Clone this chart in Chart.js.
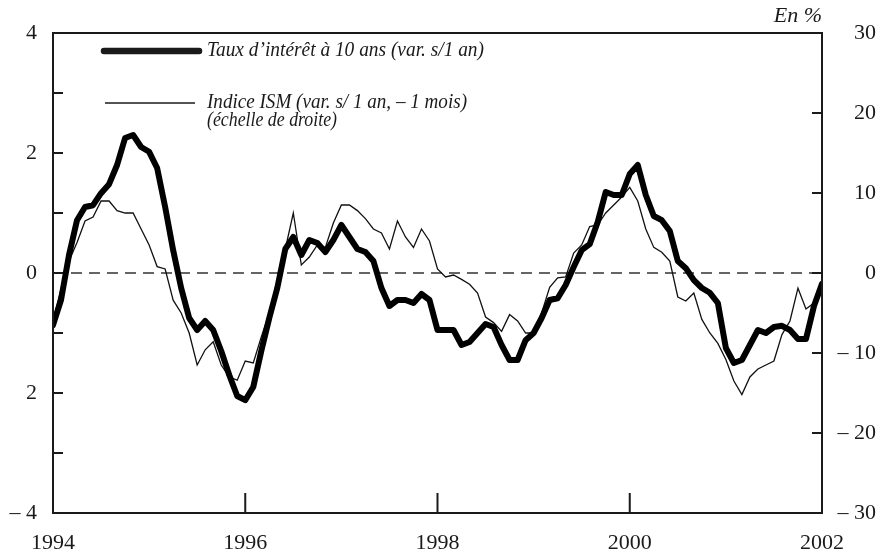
<!DOCTYPE html>
<html lang="fr">
<head>
<meta charset="UTF-8">
<title>Taux à 10 ans et indice ISM</title>
<style>
  body { margin: 0; background: #fff; }
</style>
</head>
<body>
<canvas id="myChart" width="880" height="555"></canvas>
<script src="https://cdn.jsdelivr.net/npm/chart.js"></script>
<script>
// données mensuelles, janvier 1994 -> janvier 2002
const startYear = 1994;

// Taux d'intérêt à 10 ans (var. s/1 an), échelle de gauche
const taux = [
  -0.87, -0.45, 0.30, 0.88, 1.10, 1.13, 1.33, 1.48, 1.80, 2.25, 2.30, 2.10,
  2.02, 1.75, 1.10, 0.38, -0.25, -0.75, -0.95, -0.80, -0.95, -1.30, -1.70, -2.05,
  -2.12, -1.90, -1.30, -0.75, -0.25, 0.40, 0.60, 0.30, 0.55, 0.50, 0.35, 0.55,
  0.80, 0.60, 0.40, 0.35, 0.20, -0.25, -0.55, -0.45, -0.45, -0.50, -0.35, -0.45,
  -0.95, -0.95, -0.95, -1.20, -1.15, -1.00, -0.85, -0.90, -1.20, -1.45, -1.45, -1.12,
  -1.00, -0.75, -0.45, -0.42, -0.20, 0.10, 0.38, 0.48, 0.85, 1.35, 1.30, 1.30,
  1.65, 1.80, 1.30, 0.95, 0.88, 0.70, 0.20, 0.08, -0.12, -0.25, -0.33, -0.50,
  -1.25, -1.50, -1.45, -1.20, -0.95, -1.00, -0.90, -0.88, -0.95, -1.10, -1.10, -0.55,
  -0.18
];

// Indice ISM (var. s/ 1 an, - 1 mois), échelle de droite
const ism = [
  -6.0, -2.0, 1.5, 3.8, 6.5, 7.0, 9.0, 9.0, 7.8, 7.5, 7.5, 5.5,
  3.5, 0.8, 0.5, -3.4, -5.0, -7.5, -11.5, -9.6, -8.6, -11.5, -13.0, -13.4,
  -11.0, -11.25, -8.0, -5.0, -1.5, 3.0, 7.5, 1.0, 2.0, 3.5, 3.2, 6.25,
  8.5, 8.5, 7.8, 6.8, 5.5, 5.0, 3.0, 6.5, 4.5, 3.2, 5.5, 4.0,
  0.5, -0.5, -0.25, -0.8, -1.4, -2.5, -5.5, -6.2, -7.3, -5.2, -6.0, -7.5,
  -7.5, -5.0, -1.8, -0.6, -0.5, 2.5, 3.5, 5.8, 6.0, 7.5, 8.5, 9.5,
  10.7, 9.0, 5.5, 3.2, 2.6, 1.5, -3.0, -3.5, -2.5, -5.8, -7.5, -8.8,
  -10.8, -13.5, -15.2, -13.0, -12.0, -11.5, -11.0, -7.7, -6.0, -1.9, -4.5, -3.75,
  -2.0
];

const yearTicks = [1994, 1996, 1998, 2000, 2002];
const leftTicks = [4, 2, 0, -2, -4];
const leftLabels = ['4', '2', '0', '2', '\u2013 4'];
const rightTicks = [30, 20, 10, 0, -10, -20, -30];
const rightLabels = ['30', '20', '10', '0', '\u2013 10', '\u2013 20', '\u2013 30'];

const labelTaux = "Taux d\u2019intérêt à 10 ans (var. s/1 an)";
const labelIsm1 = "Indice ISM (var. s/ 1 an, \u2013 1 mois)";
const labelIsm2 = "(échelle de droite)";
const unitText = "En %";

const toPoints = arr => arr.map((v, i) => ({ x: startYear + i / 12, y: v }));

const serif = "'Liberation Serif', 'DejaVu Serif', serif";
const ink = '#1a1a1a';

// cadre, petites graduations intérieures, ligne zéro pointillée, légende
const decor = {
  id: 'decor',
  beforeDatasetsDraw(chart) {
    const { ctx, chartArea: a, scales } = chart;
    const y0 = scales.y.getPixelForValue(0);
    ctx.save();
    ctx.strokeStyle = '#333';
    ctx.lineWidth = 1.3;
    ctx.setLineDash([11, 7]);
    ctx.beginPath();
    ctx.moveTo(a.left, y0);
    ctx.lineTo(a.right, y0);
    ctx.stroke();
    ctx.restore();
  },
  afterDatasetsDraw(chart) {
    const { ctx, chartArea: a, scales } = chart;
    ctx.save();
    ctx.strokeStyle = ink;
    ctx.lineWidth = 2;
    ctx.strokeRect(a.left, a.top, a.right - a.left, a.bottom - a.top);

    ctx.beginPath();
    for (let v = scales.y.min; v <= scales.y.max; v++) {
      const p = scales.y.getPixelForValue(v);
      ctx.moveTo(a.left, p);
      ctx.lineTo(a.left + 10, p);
    }
    for (let v = scales.y2.min; v <= scales.y2.max; v += 10) {
      const p = scales.y2.getPixelForValue(v);
      ctx.moveTo(a.right, p);
      ctx.lineTo(a.right - 10, p);
    }
    yearTicks.forEach(v => {
      const p = scales.x.getPixelForValue(v);
      ctx.moveTo(p, a.bottom);
      ctx.lineTo(p, a.bottom - 20);
    });
    ctx.stroke();

    // légende
    ctx.lineCap = 'round';
    ctx.lineWidth = 6.5;
    ctx.beginPath();
    ctx.moveTo(104, 51);
    ctx.lineTo(199, 51);
    ctx.stroke();
    ctx.lineWidth = 1.3;
    ctx.lineCap = 'butt';
    ctx.beginPath();
    ctx.moveTo(105, 103);
    ctx.lineTo(195, 103);
    ctx.stroke();

    ctx.fillStyle = ink;
    ctx.font = 'italic 20px ' + serif;
    ctx.textBaseline = 'middle';
    ctx.textAlign = 'left';
    ctx.fillText(labelTaux, 207, 51, 277);
    ctx.fillText(labelIsm1, 207, 103, 260);
    ctx.fillText(labelIsm2, 207, 121, 130);

    ctx.textAlign = 'right';
    ctx.font = 'italic 22px ' + serif;
    ctx.fillText(unitText, a.right, 16);
    ctx.restore();
  }
};

const ctx = document.getElementById('myChart');
let myChart = new Chart(ctx, {
  type: 'line',
  data: {
    datasets: [{
      label: labelTaux,
      data: toPoints(taux),
      yAxisID: 'y',
      borderColor: '#000',
      borderWidth: 6,
      borderJoinStyle: 'round',
      borderCapStyle: 'round',
      pointRadius: 0,
      tension: 0
    }, {
      label: labelIsm1,
      data: toPoints(ism),
      yAxisID: 'y2',
      borderColor: '#111',
      borderWidth: 1.3,
      pointRadius: 0,
      tension: 0
    }]
  },
  options: {
    responsive: false,
    devicePixelRatio: 1,
    animation: false,
    layout: { padding: { top: 33, left: 0, right: 4, bottom: 0 } },
    plugins: {
      legend: { display: false },
      tooltip: { enabled: false }
    },
    scales: {
      x: {
        type: 'linear',
        min: 1994,
        max: 2002,
        afterBuildTicks: s => { s.ticks = yearTicks.map(v => ({ value: v })); },
        afterFit: s => { s.height = 42; },
        grid: { display: false, drawTicks: false },
        border: { display: false },
        ticks: {
          autoSkip: false,
          maxRotation: 0,
          padding: 17,
          color: ink,
          font: { family: serif, size: 22 },
          callback: v => String(v)
        }
      },
      y: {
        position: 'left',
        min: -4,
        max: 4,
        afterBuildTicks: s => { s.ticks = leftTicks.map(v => ({ value: v })); },
        afterFit: s => { s.width = 53; },
        grid: { display: false, drawTicks: false },
        border: { display: false },
        ticks: {
          padding: 16,
          color: ink,
          font: { family: serif, size: 22 },
          callback: v => leftLabels[leftTicks.indexOf(v)]
        }
      },
      y2: {
        position: 'right',
        min: -30,
        max: 30,
        afterBuildTicks: s => { s.ticks = rightTicks.map(v => ({ value: v })); },
        afterFit: s => { s.width = 54; },
        grid: { display: false, drawTicks: false },
        border: { display: false },
        ticks: {
          padding: 4,
          crossAlign: 'far',
          color: ink,
          font: { family: serif, size: 22 },
          callback: v => rightLabels[rightTicks.indexOf(v)]
        }
      }
    }
  },
  plugins: [decor]
});
</script>
</body>
</html>
